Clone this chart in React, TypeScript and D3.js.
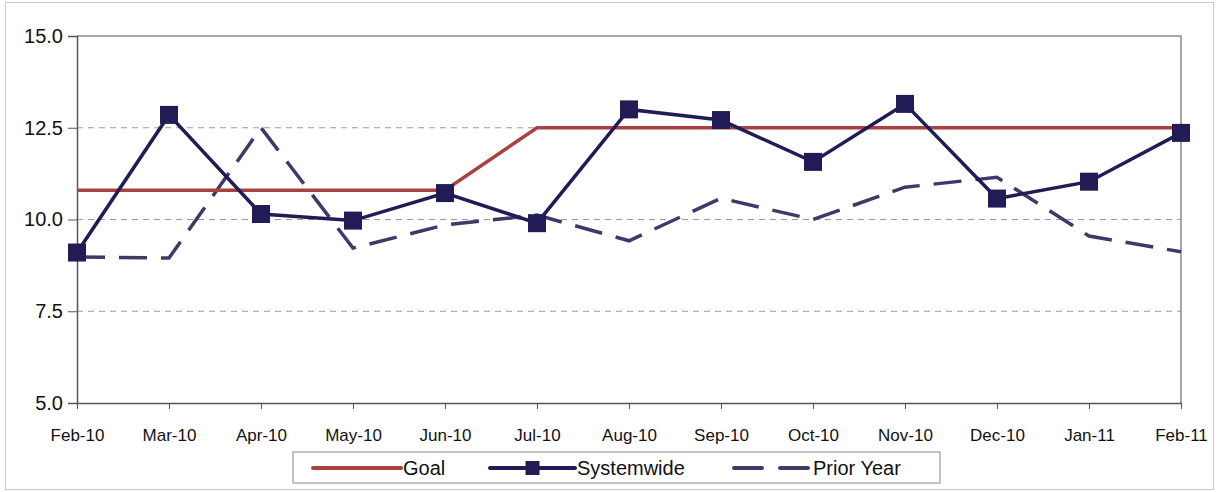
import React, { useRef, useEffect } from 'react'
import * as d3 from 'd3'

const months = ['Feb-10', 'Mar-10', 'Apr-10', 'May-10', 'Jun-10', 'Jul-10', 'Aug-10', 'Sep-10', 'Oct-10', 'Nov-10', 'Dec-10', 'Jan-11', 'Feb-11']
const goal = [10.8, 10.8, 10.8, 10.8, 10.8, 12.5, 12.5, 12.5, 12.5, 12.5, 12.5, 12.5, 12.5]
const systemwide = [9.1, 12.85, 10.15, 9.97, 10.72, 9.9, 13.0, 12.71, 11.57, 13.15, 10.57, 11.03, 12.36]
const priorYear = [8.98, 8.95, 12.5, 9.22, 9.85, 10.12, 9.42, 10.58, 10.0, 10.88, 11.15, 9.55, 9.12]
const yTicks = [5, 7.5, 10, 12.5, 15]

const W = 1221
const H = 492
const FONT = '"Liberation Sans", Arial, sans-serif'
const GOAL_COLOR = '#A8413F'
const SYS_COLOR = '#211C55'
const PRIOR_COLOR = '#3D3A68'

export default function App() {
  const node = useRef<SVGSVGElement | null>(null)

  useEffect(() => {
    const svg = d3.select(node.current)
    svg.selectAll('*').remove()

    const margin = { top: 36, right: 40, bottom: 89, left: 77 }

    const x = d3
      .scalePoint()
      .domain(months)
      .range([margin.left, W - margin.right])

    const y = d3
      .scaleLinear()
      .domain([5, 15])
      .range([H - margin.bottom, margin.top])

    // outer frame
    svg
      .append('rect')
      .attr('x', 5.5)
      .attr('y', 2.5)
      .attr('width', W - 13)
      .attr('height', H - 5)
      .attr('fill', 'none')
      .attr('stroke', '#c8c8c8')

    // grid
    svg
      .append('g')
      .selectAll('line')
      .data(yTicks.filter((t) => t > 5 && t < 15))
      .join('line')
      .attr('x1', margin.left)
      .attr('x2', W - margin.right)
      .attr('y1', (d) => y(d))
      .attr('y2', (d) => y(d))
      .attr('stroke', '#9a9a9a')
      .attr('stroke-dasharray', '6,5')

    // plot border top/right
    svg
      .append('path')
      .attr('d', `M${margin.left},${y(15)}H${W - margin.right}V${y(5)}`)
      .attr('fill', 'none')
      .attr('stroke', '#8a8a8a')
      .attr('stroke-width', 1.5)

    const yAxis = (g) =>
      g
        .attr('transform', `translate(${margin.left},0)`)
        .call(d3.axisLeft(y).tickValues(yTicks).tickFormat(d3.format('.1f')).tickSize(9).tickPadding(5))
        .call((g) => g.select('.domain').attr('stroke', '#555').attr('stroke-width', 1.5))
        .call((g) => g.selectAll('.tick line').attr('stroke', '#555'))
        .call((g) => g.selectAll('text').attr('font-family', FONT).attr('font-size', 20).attr('fill', '#111'))

    const xAxis = (g) =>
      g
        .attr('transform', `translate(0,${y(5)})`)
        .call(d3.axisBottom(x).tickSize(6).tickSizeOuter(0).tickPadding(20))
        .call((g) => g.select('.domain').attr('stroke', '#555').attr('stroke-width', 1.5))
        .call((g) => g.selectAll('.tick line').attr('stroke', '#555'))
        .call((g) => g.selectAll('text').attr('font-family', FONT).attr('font-size', 17).attr('fill', '#111'))

    svg.append('g').call(xAxis)
    svg.append('g').call(yAxis)

    const line = d3
      .line<number>()
      .x((d, i) => x(months[i]))
      .y((d) => y(d))

    svg
      .append('path')
      .attr('d', line(priorYear))
      .attr('fill', 'none')
      .attr('stroke', PRIOR_COLOR)
      .attr('stroke-width', 3.5)
      .attr('stroke-dasharray', '28,14')

    svg
      .append('path')
      .attr('d', line(goal))
      .attr('fill', 'none')
      .attr('stroke', GOAL_COLOR)
      .attr('stroke-width', 3.5)

    svg
      .append('path')
      .attr('d', line(systemwide))
      .attr('fill', 'none')
      .attr('stroke', SYS_COLOR)
      .attr('stroke-width', 3.5)

    const ms = 18
    svg
      .append('g')
      .selectAll('rect')
      .data(systemwide)
      .join('rect')
      .attr('x', (d, i) => x(months[i]) - ms / 2)
      .attr('y', (d) => y(d) - ms / 2)
      .attr('width', ms)
      .attr('height', ms)
      .attr('fill', SYS_COLOR)

    // legend
    const lg = svg.append('g').attr('transform', 'translate(293,452)')
    lg.append('rect')
      .attr('width', 647)
      .attr('height', 31)
      .attr('fill', '#fff')
      .attr('stroke', '#888')
    const ly = 16
    const items = [
      { name: 'Goal', color: GOAL_COLOR, x0: 20, x1: 108, dash: null, marker: false },
      { name: 'Systemwide', color: SYS_COLOR, x0: 197, x1: 282, dash: null, marker: true },
      { name: 'Prior Year', color: PRIOR_COLOR, x0: 441, x1: 518, dash: '28,18', marker: false }
    ]
    items.forEach((it) => {
      lg.append('line')
        .attr('x1', it.x0)
        .attr('x2', it.x1)
        .attr('y1', ly)
        .attr('y2', ly)
        .attr('stroke', it.color)
        .attr('stroke-width', 4)
        .attr('stroke-linecap', 'round')
        .attr('stroke-dasharray', it.dash)
      if (it.marker) {
        lg.append('rect')
          .attr('x', (it.x0 + it.x1) / 2 - 7)
          .attr('y', ly - 7)
          .attr('width', 14)
          .attr('height', 14)
          .attr('fill', it.color)
      }
      lg.append('text')
        .attr('x', it.x1 + 2)
        .attr('y', ly + 7)
        .attr('font-family', FONT)
        .attr('font-size', 20)
        .attr('fill', '#111')
        .text(it.name)
    })
  }, [node])

  return (
    <div style={{ position: 'absolute', left: 0, top: 0, background: '#fff' }}>
      <svg ref={node} width={W} height={H}></svg>
    </div>
  )
}
